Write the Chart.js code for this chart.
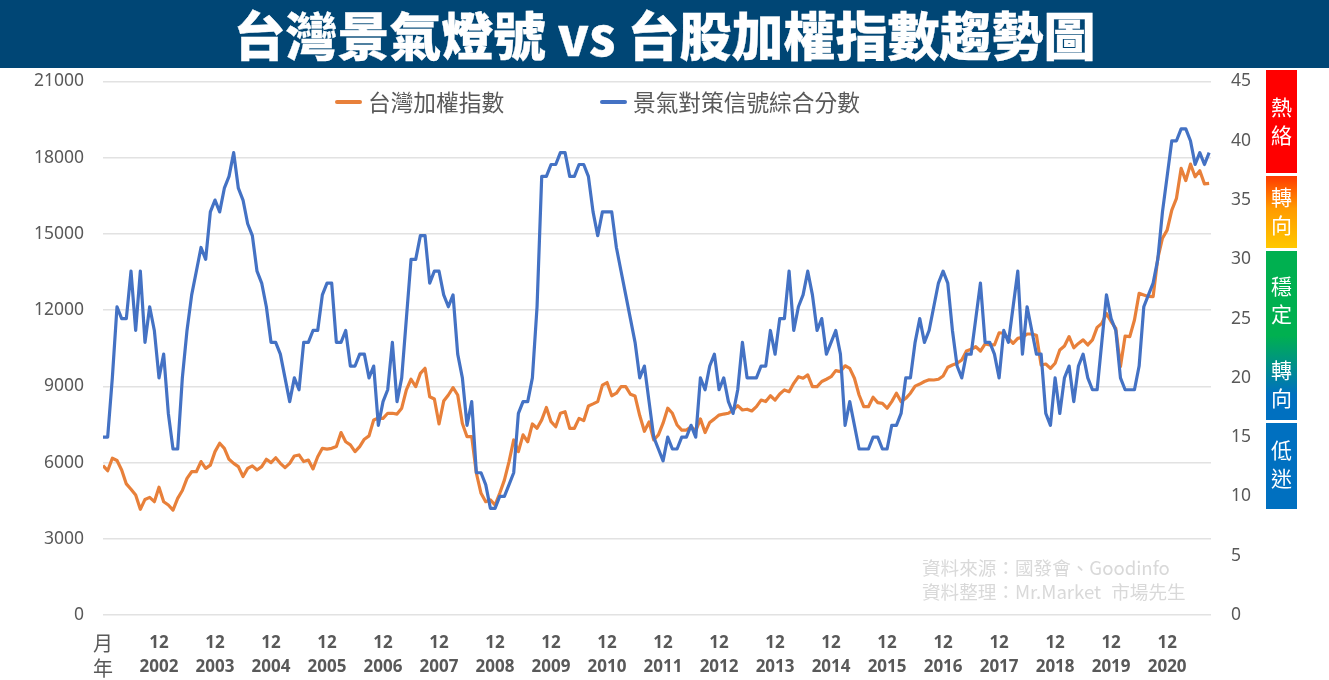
<!DOCTYPE html>
<html lang="zh-Hant">
<head>
<meta charset="utf-8">
<title>台灣景氣燈號 vs 台股加權指數趨勢圖</title>
<script src="https://cdn.jsdelivr.net/npm/chart.js@4"></script>
<style>
  html, body { margin: 0; padding: 0; background: #fff; }
  body { width: 1329px; height: 680px; position: relative; overflow: hidden; font-family: "Noto Sans CJK TC", "Noto Sans", sans-serif; }
  canvas { position: absolute; left: 0; top: 0; }
  .banner { position: absolute; left: 0; top: 0; width: 1329px; height: 68px; background: #004675; color: #fff; text-align: center; font-size: 52px; font-weight: 900; line-height: 68px; white-space: pre; -webkit-text-stroke: 0.3px #fff; }
  .legend { position: absolute; top: 86px; height: 32px; line-height: 32px; font-size: 22.7px; color: #595959; white-space: nowrap; }
  .legend i { position: absolute; left: -33px; top: 14px; width: 27px; height: 4px; border-radius: 2px; }
  .signal { position: absolute; left: 1266px; width: 31px; color: #fff; font-size: 21px; }
  .signal span { position: absolute; left: 0; width: 31px; text-align: center; line-height: 28px; }
  .note { position: absolute; left: 922px; color: #d9d9d9; font-size: 18.6px; word-spacing: 6px; line-height: 24px; white-space: pre; }
</style>
</head>
<body>
<div class="banner">台灣景氣燈號 vs 台股加權指數趨勢圖</div>
<canvas id="chart" width="1329" height="680"></canvas>
<div class="legend" style="left:368px"><i style="background:#e8803a"></i>台灣加權指數</div>
<div class="legend" style="left:633px"><i style="background:#4472c4"></i>景氣對策信號綜合分數</div>
<div class="signal" style="top:70px;height:103px;background:#ff0000"><span style="top:22px">熱<br>絡</span></div>
<div class="signal" style="top:176px;height:72px;background:linear-gradient(#ff3a00,#ff9a00 45%,#ffc800)"><span style="top:6px">轉<br>向</span></div>
<div class="signal" style="top:251px;height:169px;background:linear-gradient(#00b050,#00b050 50%,#0070c0 85%)"><span style="top:20px">穩<br>定</span><span style="top:104px">轉<br>向</span></div>
<div class="signal" style="top:423px;height:86px;background:#0070c0"><span style="top:12px">低<br>迷</span></div>
<div class="note" style="top:555px">資料來源：國發會、Goodinfo
資料整理：Mr.Market 市場先生</div>
<script>
// 資料:每月一點,從 2001/12 到 2021/09
const monthLabel = '12';
const yearLabels = ['2002', '2003', '2004', '2005', '2006', '2007', '2008', '2009', '2010', '2011',
  '2012', '2013', '2014', '2015', '2016', '2017', '2018', '2019', '2020'];
const leftTicks = [0, 3000, 6000, 9000, 12000, 15000, 18000, 21000];
const rightTicks = [0, 5, 10, 15, 20, 25, 30, 35, 40, 45];

const indexValues = [
  5880, 5680, 6170, 6080, 5710, 5160, 4950, 4720, 4160, 4550, 4630, 4460,
  5030, 4460, 4330, 4130, 4590, 4900, 5380, 5640, 5640, 6040, 5770, 5900,
  6430, 6760, 6560, 6130, 5970, 5840, 5450, 5770, 5870, 5710, 5840, 6130,
  6000, 6190, 5970, 5800, 5970, 6260, 6300, 6040, 6100, 5750, 6230, 6560,
  6530, 6560, 6630, 7180, 6820, 6700, 6430, 6630, 6920, 7050, 7680, 7750,
  7740, 7940, 7940, 7910, 8140, 8860, 9280, 8990, 9510, 9710, 8590, 8500,
  7520, 8420, 8660, 8950, 8660, 7540, 7020, 7020, 5580, 4790, 4460, 4530,
  4330, 4790, 5310, 6040, 6890, 6430, 7090, 6820, 7520, 7350, 7680, 8170,
  7610, 7410, 7940, 8000, 7350, 7350, 7740, 7650, 8230, 8310, 8400, 9050,
  9150, 8630, 8730, 8990, 8990, 8690, 8620, 7850, 7230, 7600, 6890, 7090,
  7550, 8140, 7940, 7480, 7280, 7280, 7410, 7250, 7720, 7180, 7580, 7720,
  7870, 7910, 7940, 8070, 8240, 8070, 8100, 8030, 8200, 8460, 8400, 8630,
  8460, 8700, 8860, 8790, 9120, 9380, 9320, 9450, 8990, 8990, 9190, 9280,
  9380, 9620, 9580, 9810, 9710, 9320, 8660, 8200, 8200, 8570, 8360, 8330,
  8140, 8400, 8730, 8400, 8530, 8730, 9010, 9090, 9190, 9260, 9250, 9280,
  9410, 9750, 9840, 9910, 10040, 10390, 10460, 10560, 10390, 10670, 10630, 10630,
  11110, 11090, 10890, 10690, 10890, 10930, 11060, 11060, 11010, 9840, 9880, 9710,
  9910, 10430, 10590, 10960, 10520, 10690, 10830, 10630, 10830, 11320, 11480, 11870,
  11550, 11280, 9780, 10980, 10960, 11610, 12660, 12600, 12540, 12530, 14040, 14830,
  15150, 15940, 16400, 17580, 17100, 17750, 17250, 17490, 16970, 16990
];
const scoreValues = [
  15, 15, 20, 26, 25, 25, 29, 24, 29, 23, 26, 24,
  20, 22, 17, 14, 14, 20, 24, 27, 29, 31, 30, 34,
  35, 34, 36, 37, 39, 36, 35, 33, 32, 29, 28, 26,
  23, 23, 22, 20, 18, 20, 19, 23, 23, 24, 24, 27,
  28, 28, 23, 23, 24, 21, 21, 22, 22, 20, 21, 16,
  18, 19, 23, 18, 20, 25, 30, 30, 32, 32, 28, 29,
  29, 27, 26, 27, 22, 20, 16, 18, 12, 12, 11, 9,
  9, 10, 10, 11, 12, 17, 18, 18, 20, 26, 37, 37,
  38, 38, 39, 39, 37, 37, 38, 38, 37, 34, 32, 34,
  34, 34, 31, 29, 27, 25, 23, 20, 21, 18, 15, 14,
  13, 15, 14, 14, 15, 15, 16, 15, 20, 19, 21, 22,
  19, 20, 18, 17, 19, 23, 20, 20, 20, 21, 21, 24,
  22, 25, 25, 29, 24, 26, 27, 29, 27, 24, 25, 22,
  23, 24, 22, 16, 18, 16, 14, 14, 14, 15, 15, 14,
  14, 16, 16, 17, 20, 20, 23, 25, 23, 24, 26, 28,
  29, 28, 24, 21, 20, 22, 22, 25, 28, 23, 23, 22,
  20, 24, 23, 26, 29, 22, 26, 24, 22, 22, 17, 16,
  20, 17, 20, 21, 18, 21, 22, 20, 19, 19, 23, 27,
  25, 24, 20, 19, 19, 19, 21, 26, 27, 28, 30, 34,
  37, 40, 40, 41, 41, 40, 38, 39, 38, 39
];

const TICK_COLOR = '#595959';

function toPoints(values) {
  return values.map((value, month) => ({ x: month, y: value }));
}

function fixedTicks(scale, list) {
  scale.ticks = list.map((value) => ({ value }));
}

const chart = new Chart(document.getElementById('chart'), {
  type: 'line',
  data: {
    datasets: [
      {
        label: '台灣加權指數',
        data: toPoints(indexValues),
        yAxisID: 'y',
        borderColor: '#e8803a',
        borderWidth: 3.2,
        pointRadius: 0,
        borderJoinStyle: 'round',
        order: 2
      },
      {
        label: '景氣對策信號綜合分數',
        data: toPoints(scoreValues),
        yAxisID: 'y1',
        borderColor: '#4472c4',
        borderWidth: 3.2,
        pointRadius: 0,
        borderJoinStyle: 'round',
        order: 1
      }
    ]
  },
  options: {
    responsive: false,
    animation: false,
    layout: { padding: { top: 81.5 } },
    plugins: { legend: { display: false }, tooltip: { enabled: false } },
    scales: {
      x: {
        type: 'linear',
        min: 0,
        max: 237.4,
        grid: { display: false },
        border: { display: false },
        afterFit: (scale) => { scale.height = 65; },
        ticks: {
          stepSize: 12,
          autoSkip: false,
          maxRotation: 0,
          includeBounds: false,
          padding: 8,
          color: TICK_COLOR,
          font: (ctx) => (ctx.index === 0
            ? { family: '"Noto Sans CJK TC"', size: 20, weight: 'normal', lineHeight: '25px' }
            : { family: '"Noto Sans"', size: 17, weight: 'bold', lineHeight: '24px' }),
          callback: (value) => (value === 0 ? ['月', '年'] : [monthLabel, yearLabels[value / 12 - 1]])
        }
      },
      y: {
        position: 'left',
        min: 0,
        max: 21000,
        afterBuildTicks: (scale) => fixedTicks(scale, leftTicks),
        afterFit: (scale) => { scale.width = 103; },
        grid: { color: '#e2e2e2', lineWidth: 1.5, drawTicks: false },
        border: { display: false },
        ticks: {
          padding: 19,
          color: TICK_COLOR,
          font: { family: '"Noto Sans"', size: 17.5 },
          callback: (value) => String(value)
        }
      },
      y1: {
        position: 'right',
        min: 0,
        max: 45,
        afterBuildTicks: (scale) => fixedTicks(scale, rightTicks),
        afterFit: (scale) => { scale.width = 118; },
        grid: { display: false, drawTicks: false },
        border: { display: false },
        ticks: { padding: 20, color: TICK_COLOR, font: { family: '"Noto Sans"', size: 17.5 } }
      }
    }
  }
});
</script>
</body>
</html>
